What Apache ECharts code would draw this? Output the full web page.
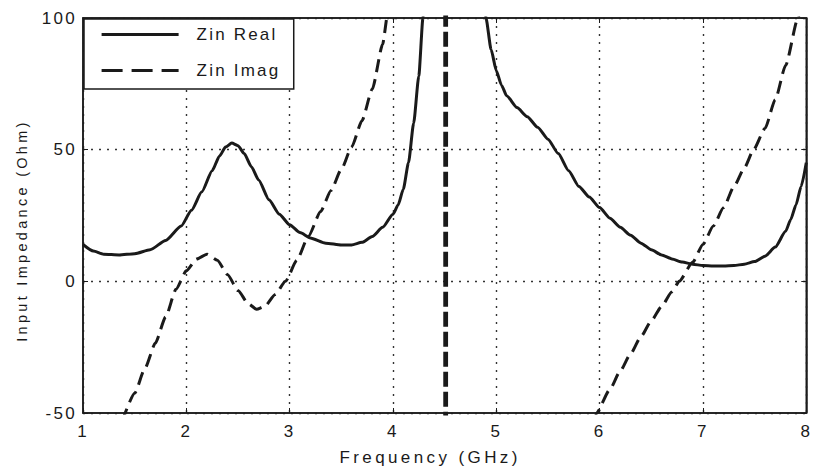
<!DOCTYPE html>
<html>
<head>
<meta charset="utf-8">
<script src="https://cdn.jsdelivr.net/npm/echarts@6/dist/echarts.min.js"></script>
<style>html,body{margin:0;padding:0;background:#fff}#c{width:814px;height:473px}</style>
</head>
<body>
<div id="c"></div>
<script>
// Zin Real (solid) — frequency in GHz, impedance in Ohm
const realFreq = [1.0,1.1,1.2,1.35,1.5,1.65,1.8,1.95,2.05,2.15,2.25,2.32,2.38,2.44,2.5,2.56,2.63,2.7,2.8,2.9,3.0,3.1,3.2,3.35,3.5,3.6,3.7,3.8,3.9,4.0,4.05,4.1,4.15,4.2,4.25,4.29,4.32,
  4.87,4.9,4.95,5.0,5.05,5.1,5.2,5.3,5.4,5.5,5.6,5.7,5.8,5.9,6.0,6.1,6.2,6.3,6.4,6.5,6.6,6.7,6.8,6.9,7.0,7.1,7.2,7.3,7.4,7.5,7.6,7.7,7.8,7.85,7.9,7.95,8.0];
const realVal = [14,11.5,10.3,10,10.5,12,15.5,21,27,34,42,47.5,51,52.5,51.5,48.5,43.5,38.5,31,25.5,21.5,18.5,16.5,14.5,13.8,13.8,14.8,17,20.5,25.5,29,35,45,60,78,100,115,
  115,100,88,80,74.5,70.5,66,62.5,58.5,54,48.5,42,36,32,28,24,20.5,17.5,14.5,12,10,8.5,7.3,6.5,6,5.8,5.8,6,6.5,7.5,9.5,13,19,23.5,29,36,45];
// Zin Imag (dashed); null = break in the curve
const imagFreq = [1.38,1.5,1.6,1.7,1.8,1.9,2.0,2.1,2.2,2.3,2.4,2.5,2.6,2.68,2.76,2.86,2.96,3.07,3.18,3.3,3.4,3.5,3.6,3.7,3.8,3.9,3.95,4.0,
  null,5.95,5.97,6.1,6.2,6.3,6.4,6.5,6.6,6.7,6.77,6.9,7.0,7.1,7.2,7.3,7.4,7.49,7.6,7.7,7.8,7.92,7.95];
const imagVal = [-53,-42.5,-33,-23.5,-13.5,-3,4,8.5,10.3,8,2.5,-3.5,-8.5,-10.6,-9.5,-5,0,8,17,26.5,34.5,42.5,51,61,73,90,102,115,
  null,-53,-50,-41,-34,-27.5,-21,-15,-9.5,-4,0,7.2,14,21,28,36,43,50,58,69,82,100,105];
// Zin Imag jump at the resonance
const jumpFreq = [4.51,4.51];
const jumpVal = [110,-60];
const xTicks = [1,2,3,4,5,6,7,8];
const yTicks = [-50,0,50,100];

const pair = (xs, ys) => xs.map((x,i) => x === null ? '-' : [x, ys[i]]);

const font = 'Liberation Sans, Arial, sans-serif';
const ink = '#1a1a1a';
const gridDot = {color:'#333', type:[2,6], width:1.4};

const chart = echarts.init(document.getElementById('c'), null, {renderer:'svg'});
chart.setOption({
  backgroundColor:'#fff',
  animation:false,
  grid:{left:83, right:3, top:18, bottom:60, show:true, borderColor:ink, borderWidth:1.5, backgroundColor:'#fff'},
  legend:{
    orient:'vertical', left:84, top:19,
    backgroundColor:'#fff', borderColor:ink, borderWidth:1.5,
    padding:[7,31,10,16], itemGap:19, itemWidth:77, itemHeight:14,
    itemStyle:{opacity:0},
    textStyle:{fontFamily:font, fontSize:17, color:ink, padding:[0,0,0,13]},
    data:[
      {name:'Zin Real', lineStyle:{width:3}},
      {name:'Zin Imag', lineStyle:{type:[21,9], width:3.2}}
    ]
  },
  xAxis:[{
    type:'value', min:xTicks[0], max:xTicks[xTicks.length-1], interval:1,
    name:'Frequency (GHz)', nameLocation:'middle', nameGap:36,
    nameTextStyle:{fontFamily:font, fontSize:17, color:ink, padding:[0,29,0,0]},
    axisLine:{show:true, onZero:false, lineStyle:{color:ink, width:1.5}},
    axisTick:{show:true, inside:true, length:5, lineStyle:{color:ink}},
    axisLabel:{fontFamily:font, fontSize:17, color:ink, margin:10},
    splitLine:{show:true, lineStyle:gridDot}
  },{
    type:'value', position:'top', min:1, max:8, interval:1,
    axisLine:{show:true, onZero:false, lineStyle:{color:ink, width:1.5}},
    axisTick:{show:true, inside:true, length:5, lineStyle:{color:ink}},
    axisLabel:{show:false}, splitLine:{show:false}
  }],
  yAxis:[{
    type:'value', min:yTicks[0], max:yTicks[yTicks.length-1], interval:50,
    name:'Input Impedance (Ohm)', nameLocation:'middle', nameGap:54,
    nameTextStyle:{fontFamily:font, fontSize:14.5, color:ink, padding:[0,30,0,0]},
    axisLine:{show:true, onZero:false, lineStyle:{color:ink, width:1.5}},
    axisTick:{show:true, inside:true, length:5, lineStyle:{color:ink}},
    axisLabel:{fontFamily:font, fontSize:17, color:ink, margin:6},
    splitLine:{show:true, lineStyle:gridDot}
  },{
    type:'value', position:'right', min:-50, max:100, interval:50,
    axisLine:{show:true, onZero:false, lineStyle:{color:ink, width:1.5}},
    axisTick:{show:true, inside:true, length:5, lineStyle:{color:ink}},
    axisLabel:{show:false}, splitLine:{show:false}
  }],
  series:[
    {name:'Zin Real', type:'line', data:pair(realFreq, realVal), showSymbol:false, symbol:'none', clip:true,
     connectNulls:false, smooth:0.2, smoothMonotone:'x', lineStyle:{color:ink, width:3, type:'solid'}, itemStyle:{color:ink}},
    {name:'Zin Imag', type:'line', data:pair(imagFreq, imagVal), showSymbol:false, symbol:'none', clip:true,
     connectNulls:false, smooth:0.2, smoothMonotone:'x', lineStyle:{color:ink, width:3, type:[13,7]}, itemStyle:{color:ink}},
    {name:'Zin Imag', type:'line', data:pair(jumpFreq, jumpVal), showSymbol:false, symbol:'none', clip:true,
     lineStyle:{color:ink, width:4.8, type:[15,5]}, itemStyle:{color:ink}}
  ]
});

// the reference lettering is widely spaced
function spaceText(){
  document.querySelectorAll('#c svg text').forEach(t => {
    const s = t.textContent;
    let ls = 2.3;
    if (s === 'Zin Real' || s === 'Zin Imag') ls = 2.2;
    else if (s === 'Frequency (GHz)') ls = 3.4;
    else if (s === 'Input Impedance (Ohm)') ls = 3.3;
    t.setAttribute('letter-spacing', ls);
  });
}
spaceText();
chart.on('finished', spaceText);
</script>
</body>
</html>
